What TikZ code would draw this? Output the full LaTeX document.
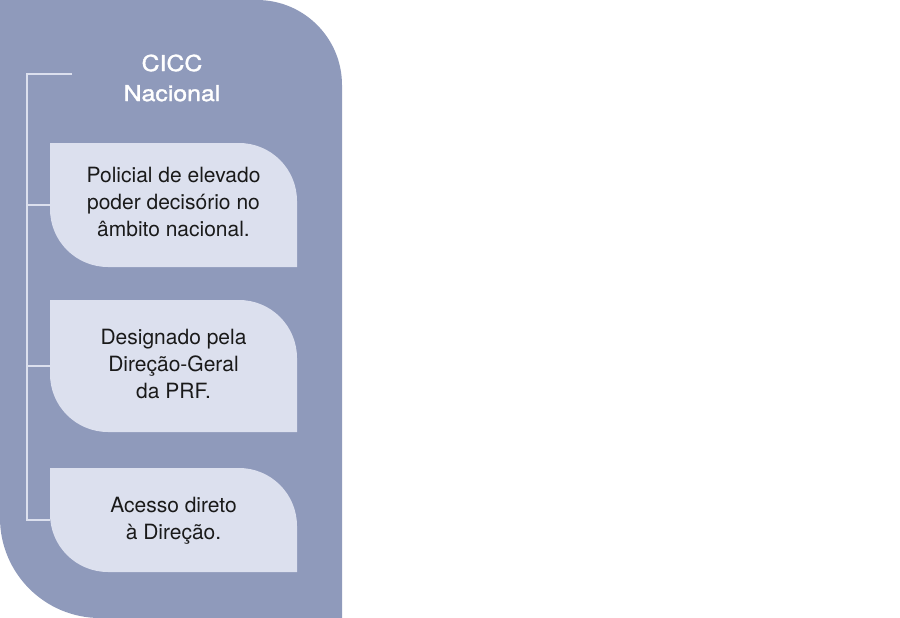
\documentclass[tikz,border=0pt]{standalone}
\usepackage{fontspec}
\setmainfont{TeX Gyre Heros}
\newfontfamily\titlefont[FakeStretch=1.13,FakeBold=1.5]{TeX Gyre Heros}
\definecolor{panel}{HTML}{8F9ABB}
\definecolor{leaf}{HTML}{DCE0EE}
\definecolor{txt}{HTML}{1A1A1A}
\newcommand\leafpath[5]{% x1 y1 x2 y2 r
  \fill[leaf] (#1,#2) -- ({#3-#5},#2) .. controls ({#3-#5+0.5523*#5},#2) and (#3,{#2+#5-0.5523*#5}) .. (#3,{#2+#5})
  -- (#3,#4) -- ({#1+#5},#4) .. controls ({#1+#5-0.5523*#5},#4) and (#1,{#4-#5+0.5523*#5}) .. (#1,{#4-#5}) -- cycle;}
\begin{document}
\begin{tikzpicture}[x=1pt,y=-1pt,
  boxtext/.style={align=center,text=txt,font=\fontsize{21}{27}\selectfont,inner sep=0pt},
  area/.style={rectangle,inner sep=0pt},
  conn/.style={draw=leaf,line width=1.5pt}]
\useasboundingbox (0,0) rectangle (900,618);
% panel
\fill[panel] (0,0) -- (257,0) .. controls (303.9,0) and (342,38.1) .. (342,85)
  -- (342,618) -- (100,618) .. controls (44.8,618) and (0,573.2) .. (0,518) -- cycle;
% title
\node[align=center,text=white,font=\titlefont\fontsize{22}{30}\selectfont,inner sep=0pt] (title) at (172,78) {CICC\\Nacional};
% boxes
\leafpath{50}{143}{297}{267}{58}
\leafpath{50}{300}{297}{432}{58}
\leafpath{50}{468}{297}{572}{58}
\node[area,minimum width=247pt,minimum height=124pt] (b1) at (173.5,205) {};
\node[area,minimum width=247pt,minimum height=132pt] (b2) at (173.5,366) {};
\node[area,minimum width=247pt,minimum height=104pt] (b3) at (173.5,520) {};
\node[boxtext] (t1) at ([yshift=3pt]b1.center) {Policial de elevado\\poder decisório no\\âmbito nacional.};
\node[boxtext] (t2) at ([yshift=2pt]b2.center) {Designado pela\\Direção-Geral\\da PRF.};
\node[boxtext] (t3) at ([yshift=-1pt]b3.center) {Acesso direto\\à Direção.};
% connectors
\coordinate (top) at (72,74);
\coordinate (corner) at (27,74);
\draw[conn] (top) -- (corner) |- (b3.west);
\draw[conn] (corner |- b1.west) -- (b1.west);
\draw[conn] (corner |- b2.west) -- (b2.west);
\end{tikzpicture}
\end{document}
